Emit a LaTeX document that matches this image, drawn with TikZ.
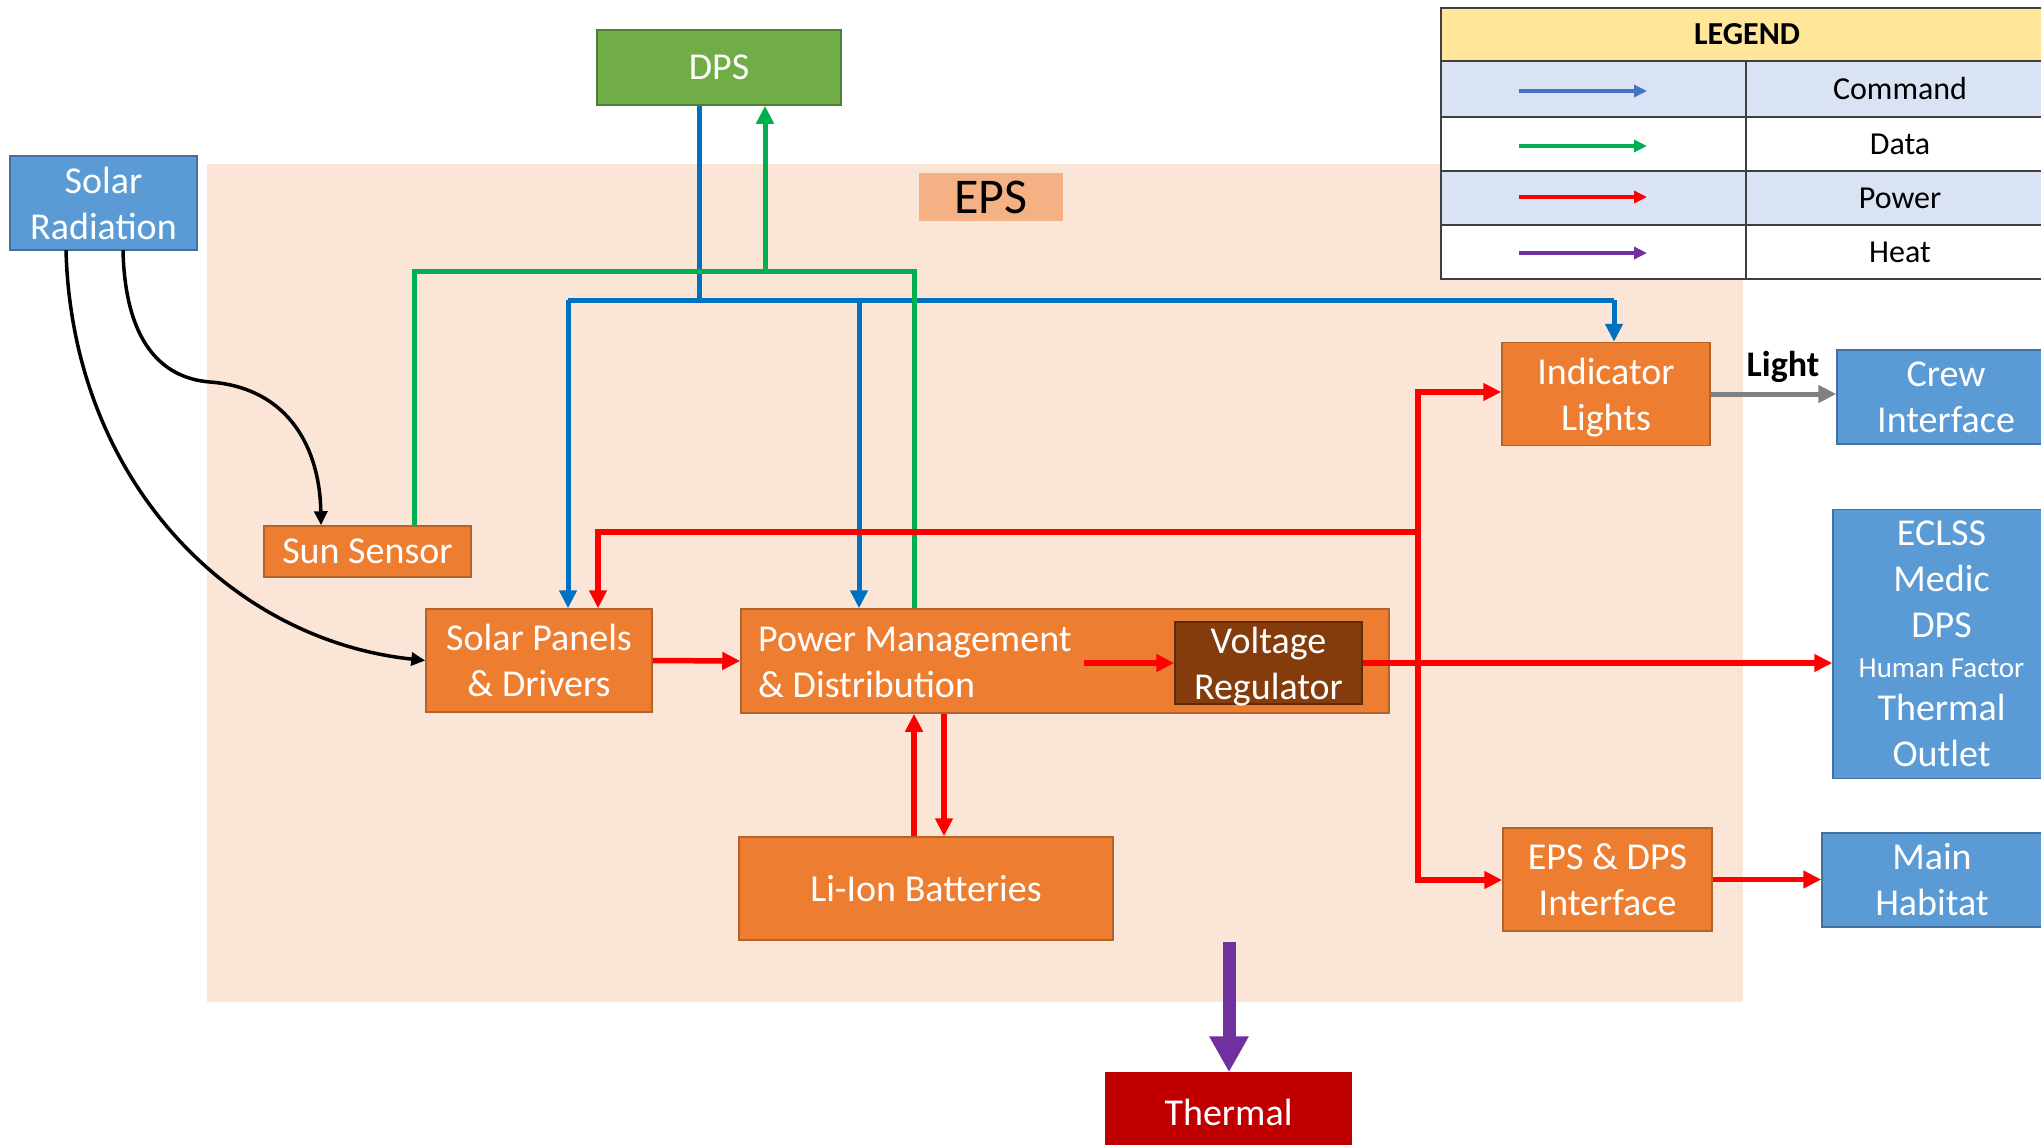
\documentclass[tikz,border=0pt]{standalone}
\usepackage{fontspec}
\setmainfont{Carlito}
\usetikzlibrary{arrows.meta}

\definecolor{epsbg}{HTML}{FBE5D6}
\definecolor{epslabel}{HTML}{F4B183}
\definecolor{orangefill}{HTML}{ED7D31}
\definecolor{orangeedge}{HTML}{B4632B}
\definecolor{bluefill}{HTML}{5B9BD5}
\definecolor{blueedge}{HTML}{41719C}
\definecolor{greenfill}{HTML}{70AD47}
\definecolor{greenedge}{HTML}{507E32}
\definecolor{brownfill}{HTML}{843C0C}
\definecolor{brownedge}{HTML}{5E2B09}
\definecolor{thermalred}{HTML}{C00000}
\definecolor{cmdblue}{HTML}{0070C0}
\definecolor{datagreen}{HTML}{00B050}
\definecolor{powred}{HTML}{FF0000}
\definecolor{heatpurple}{HTML}{7030A0}
\definecolor{lightgrey}{HTML}{808080}
\definecolor{legyellow}{HTML}{FFE699}
\definecolor{legblue}{HTML}{DAE3F3}
\definecolor{legline}{HTML}{404040}
\definecolor{legcmd}{HTML}{4472C4}

\newcommand{\boxfont}{\fontsize{38}{46}\selectfont}
\newcommand{\smallboxfont}{\fontsize{29}{34}\selectfont}
\newcommand{\legfont}{\fontsize{32}{38}\selectfont}
\newcommand{\epsfont}{\fontsize{50}{60}\selectfont}
\newcommand{\lightfont}{\fontsize{36}{42}\selectfont\bfseries}

\tikzset{
  box/.style={draw, line width=1.5pt, inner sep=0pt, align=center, text=white, font=\boxfont},
  obox/.style={box, fill=orangefill, draw=orangeedge},
  bbox/.style={box, fill=bluefill, draw=blueedge},
  link/.style={line width=5pt},
  cmd/.style={link, draw=cmdblue},
  dat/.style={link, draw=datagreen},
  pow/.style={link, line width=5.5pt, draw=powred},
  rad/.style={line width=3.5pt, draw=black, -{Triangle[length=14pt,width=13pt]}},
  arr/.style={-{Triangle[length=18pt,width=17pt]}},
  arrboth/.style={{Triangle[length=18pt,width=17pt]}-{Triangle[length=18pt,width=17pt]}},
  legarrow/.style={line width=4pt, -{Triangle[length=13pt,width=12pt]}},
  legtext/.style={inner sep=0pt, font=\legfont, text=black},
}

\begin{document}
\begin{tikzpicture}[x=1pt,y=-1pt]
\useasboundingbox (0,0) rectangle (2041,1144);
\fill[white] (0,0) rectangle (2041,1144);

% EPS subsystem area
\fill[epsbg] (207,164) rectangle (1743,1002);
\node[fill=epslabel, inner sep=0pt, minimum width=144pt, minimum height=48pt,
      font=\epsfont, text=black] (epslbl) at (991,197) {EPS};

% legend table
\fill[legyellow] (1441,8) rectangle (2053,61);
\fill[legblue] (1441,61) rectangle (2053,117);
\fill[white] (1441,117) rectangle (2053,171);
\fill[legblue] (1441,171) rectangle (2053,225);
\fill[white] (1441,225) rectangle (2053,279);
\draw[legline, line width=2pt] (1441,8) rectangle (2053,279);
\draw[legline, line width=2pt] (1441,61) -- (2053,61)
  (1441,117) -- (2053,117) (1441,171) -- (2053,171) (1441,225) -- (2053,225)
  (1746,61) -- (1746,279);
\node[legtext, font=\legfont\bfseries] (legtitle) at (1747,34.5) {LEGEND};
\node[legtext] (legcmdtxt) at (1900,89) {Command};
\node[legtext] (legdattxt) at (1900,144) {Data};
\node[legtext] (legpowtxt) at (1900,198) {Power};
\node[legtext] (legheattxt) at (1900,252) {Heat};
\coordinate (lc1) at (1519,91); \coordinate (lc2) at (1647,91);
\coordinate (ld1) at (1519,146); \coordinate (ld2) at (1647,146);
\coordinate (lp1) at (1519,197); \coordinate (lp2) at (1647,197);
\coordinate (lh1) at (1519,253); \coordinate (lh2) at (1647,253);
\draw[legarrow, legcmd] (lc1) -- (lc2);
\draw[legarrow, datagreen] (ld1) -- (ld2);
\draw[legarrow, powred] (lp1) -- (lp2);
\draw[legarrow, heatpurple] (lh1) -- (lh2);

% blocks
\node[box, fill=greenfill, draw=greenedge, minimum width=244pt, minimum height=75pt] (dps) at (719,67.5) {DPS};
\node[bbox, minimum width=187pt, minimum height=94pt] (solar) at (103.5,203) {Solar\\Radiation};
\node[obox, minimum width=207pt, minimum height=51pt] (sun) at (367.5,551.5) {Sun Sensor};
\node[obox, minimum width=226pt, minimum height=103pt] (panels) at (539,660.5) {Solar Panels\\\& Drivers};
\node[obox, minimum width=648pt, minimum height=104pt] (pmd) at (1065,661) {};
\node[inner sep=0pt, align=left, text=white, font=\boxfont, anchor=west] (pmdtext) at (758,662) {Power Management\\\& Distribution};
\node[box, fill=brownfill, draw=brownedge, minimum width=187pt, minimum height=82pt] (vreg) at (1268.5,663) {Voltage\\Re\smash{g}ulator};
\node[obox, minimum width=374pt, minimum height=103pt] (liion) at (926,888.5) {Li-Ion Batteries};
\node[obox, minimum width=208pt, minimum height=103pt] (ind) at (1606,394) {Indicator\\Li\smash{g}hts};
\node[obox, minimum width=209pt, minimum height=103pt] (epsdps) at (1607.5,879.5) {EPS \& DPS\\Interface};
\node[bbox, minimum width=218pt, minimum height=94pt] (crew) at (1946,397) {Crew\\Interface};
\node[bbox, minimum width=217pt, minimum height=269pt] (eclss) at (1941.5,644)
  {ECLSS\\Medic\\DPS\\[-6pt]{\smallboxfont Human Factor}\\[-3pt]Thermal\\Outlet};
\node[bbox, minimum width=220pt, minimum height=94pt] (habitat) at (1932,880) {Main\\Habitat};
\node[box, fill=thermalred, draw=thermalred, minimum width=245pt, minimum height=78pt] (thermal) at (1228.5,1112) {Thermal};

% solar radiation paths
\coordinate (radA) at (123,250);
\coordinate (radB) at (66,250);
\draw[rad] (radA) .. controls (125,340) and (160,378) .. (210,382)
  .. controls (290,388) and (320,450) .. (sun.north -| 321,0);
\draw[rad] (radB) .. controls (72,480) and (230,640) .. (panels.west);

% command lines
\coordinate (cmdJ) at (699,300);
\coordinate (cmdL) at (568,300);
\coordinate (cmdM) at (859,300);
\coordinate (cmdR) at (1614,300);
\draw[cmd] (dps.south -| cmdJ) -- (cmdJ);
\draw[cmd] (cmdL) -- (cmdR);
\draw[cmd, arr] (cmdL) -- (cmdL |- panels.north);
\draw[cmd, arr] (cmdM) -- (cmdM |- pmd.north);
\draw[cmd, arr] (cmdR) -- (cmdR |- ind.north);

% data lines
\coordinate (datL) at (414,271);
\coordinate (datR) at (914,271);
\coordinate (datJ) at (765,271);
\draw[dat] (sun.north -| datL) -- (datL) -- (datR) -- (datR |- pmd.north);
\draw[dat, arr] (datJ) -- (datJ |- dps.south);

% power lines
\coordinate (busT) at (1418,392);
\coordinate (busB) at (1418,880);
\coordinate (busJ) at (1418,532);
\coordinate (pwrL) at (598,532);
\coordinate (pmdout) at (1084,663);
\coordinate (batup) at (914,0);
\coordinate (batdn) at (944,0);
\draw[pow, arrboth] (busT -| ind.west) -- (busT) -- (busB) -- (busB -| epsdps.west);
\draw[pow, arr] (busJ) -- (pwrL) -- (pwrL |- panels.north);
\draw[pow, arr] (panels.east) -- (pmd.west);
\draw[pow, arr] (pmdout) -- (vreg.west);
\draw[pow, arr] (vreg.east) -- (vreg.east -| eclss.west);
\draw[pow, arr] (liion.north -| batup) -- (pmd.south -| batup);
\draw[pow, arr] (pmd.south -| batdn) -- (liion.north -| batdn);
\draw[pow, arr] (epsdps.east) -- (epsdps.east -| habitat.west);

% light to crew
\draw[line width=5pt, lightgrey, arr] (ind.east) -- (ind.east -| crew.west);
\node[inner sep=0pt, font=\lightfont, text=black] (lightlbl) at (1783,367) {Light};

% heat to thermal
\coordinate (heatsrc) at (1229,942);
\draw[line width=13pt, heatpurple, -{Triangle[length=36pt,width=37pt]}] (heatsrc) -- (heatsrc |- thermal.north);
\end{tikzpicture}
\end{document}
